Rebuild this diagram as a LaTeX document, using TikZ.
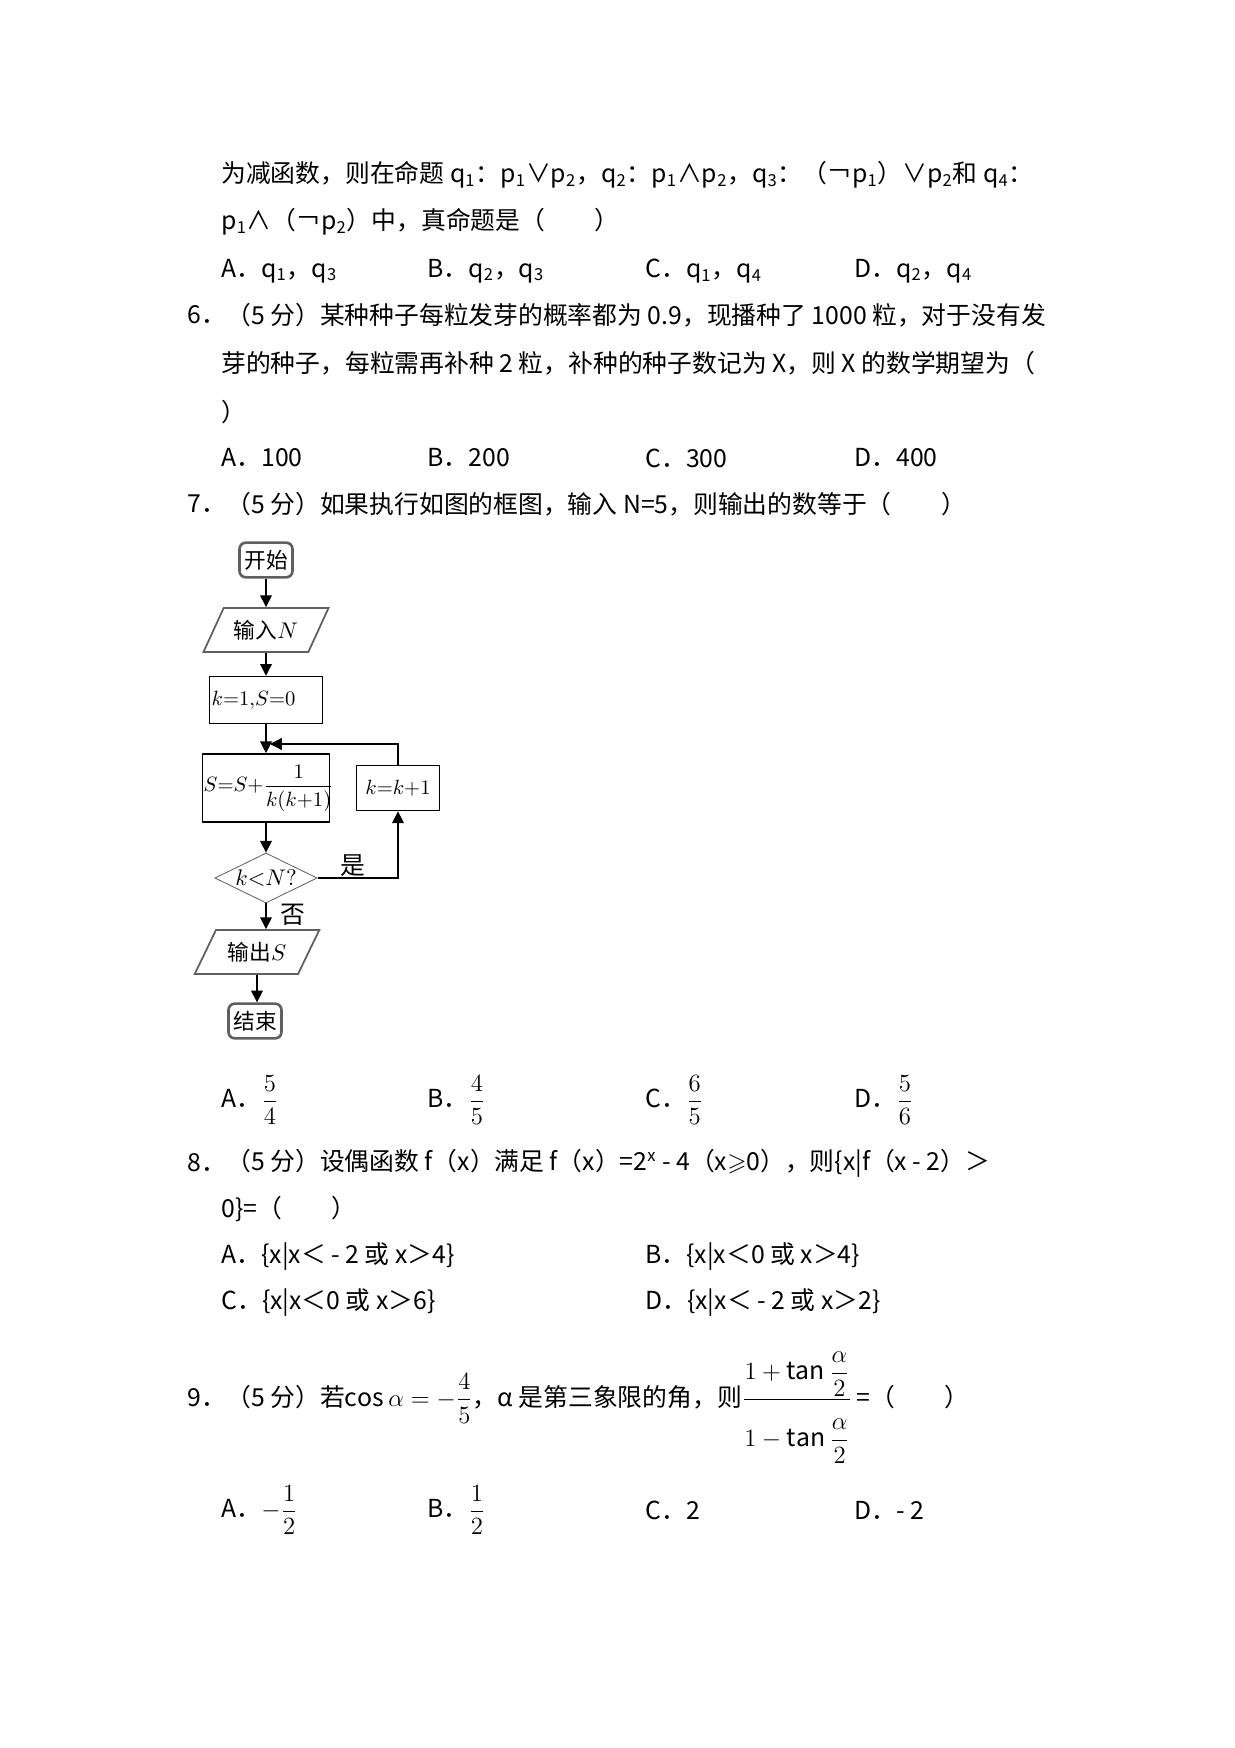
\documentclass[tikz,border=0pt]{standalone}
\usepackage{amsmath}
\usepackage{amssymb}
\usepackage{fontspec}
\setmainfont{Noto Sans CJK SC}
\usetikzlibrary{shapes.geometric}
\usetikzlibrary{arrows.meta}

\begin{document}
\begin{tikzpicture}[x=0.017018cm,y=-0.017018cm,font=\fontsize{12}{15}\selectfont]
\tikzstyle{line}=[anchor=west,inner sep=0pt]
\tikzstyle{term}=[rectangle,rounded corners=3pt,draw=gray!75!black,line width=0.45mm,minimum width=0.9cm,minimum height=0.59cm,inner sep=1pt,font=\fontsize{10.5}{12}\selectfont]
\tikzstyle{io}=[trapezium,trapezium left angle=56,trapezium right angle=124,trapezium stretches=true,draw=gray!75!black,line width=0.3mm,minimum width=2.13cm,minimum height=0.75cm,inner sep=1pt,font=\fontsize{10.5}{12}\selectfont]
\tikzstyle{box}=[rectangle,draw,line width=0.7pt,inner sep=1pt,align=left,font=\fontsize{10}{12}\selectfont]
\tikzstyle{test}=[diamond,shape aspect=2,draw=gray!75!black,line width=0.4pt,minimum width=1.74cm,minimum height=0.85cm,inner sep=0pt,font=\fontsize{10.5}{12}\selectfont]
\tikzstyle{arr}=[line width=0.6pt,-{Triangle[length=2mm,width=2mm]}]
\useasboundingbox (0,0) rectangle (1234,1748);

% question 5 (end)
\node[line] (q5a) at (221,175) {为减函数，则在命题 q\textsubscript{1}：p\textsubscript{1}∨p\textsubscript{2}，q\textsubscript{2}：p\textsubscript{1}∧p\textsubscript{2}，q\textsubscript{3}：（￢p\textsubscript{1}）∨p\textsubscript{2}和 q\textsubscript{4}：};
\node[line] (q5b) at (221,222) {p\textsubscript{1}∧（￢p\textsubscript{2}）中，真命题是（　　）};
\node[line] (q5A) at (221,271) {A．q\textsubscript{1}，q\textsubscript{3}};
\node[line] (q5B) at (427,271) {B．q\textsubscript{2}，q\textsubscript{3}};
\node[line] (q5C) at (645,271) {C．q\textsubscript{1}，q\textsubscript{4}};
\node[line] (q5D) at (854,271) {D．q\textsubscript{2}，q\textsubscript{4}};

% question 6
\node[line] (q6n) at (187,315) {6．};
\node[line] (q6a) at (226,315) {（5 分）某种种子每粒发芽的概率都为 0.9，现播种了 1000 粒，对于没有发};
\node[line] (q6b) at (221,363) {芽的种子，每粒需再补种 2 粒，补种的种子数记为 X，则 X 的数学期望为（};
\node[line] (q6c) at (221,412) {）};
\node[line] (q6A) at (221,458) {A．100};
\node[line] (q6B) at (427,458) {B．200};
\node[line] (q6C) at (645,458) {C．300};
\node[line] (q6D) at (854,458) {D．400};

% question 7
\node[line] (q7n) at (187,504) {7．};
\node[line] (q7a) at (226,504) {（5 分）如果执行如图的框图，输入 N=5，则输出的数等于（　　）};

% flow chart
\node[term] (start) at (266,560) {开始};
\node[io] (input) at (266,630) {输入$N$};
\node[box,text width=1.85cm,minimum height=0.8cm] (init) at (266,700) {$k{=}1{,}S{=}0$};
\node[box,text width=2.12cm,minimum height=1.16cm,inner sep=0.5pt,font=\fontsize{9.6}{12}\selectfont] (sum) at (266,788) {$S{=}S{+}\dfrac{1}{k(k{+}1)}$};
\node[box,minimum width=1.41cm,minimum height=0.77cm] (inc) at (398,788) {$k{=}k{+}1$};
\node[test] (cond) at (266,878) {$k{<}N?$};
\node[io] (output) at (257,952) {输出$S$};
\node[term] (stop) at (255,1021) {结束};
\coordinate (merge) at (270,744);

\draw[arr] (start.south) -- (start.south |- input.north);
\draw[arr] (input.south) -- (input.south |- init.north);
\draw[arr] (init) -- (sum);
\draw[arr] (sum) -- (cond);
\draw[arr] (cond.east) -| (inc.south);
\draw[arr] (inc.north) |- (merge);
\draw[arr] (cond.south) -- (cond.south |- output.north);
\draw[arr] (output.south) -- (output.south |- stop.north);
\node (yes) at (353,866) {是};
\node (no) at (293,915) {否};

\node[line] (q7A) at (221,1100) {A．$\dfrac{5}{4}$};
\node[line] (q7B) at (427,1100) {B．$\dfrac{4}{5}$};
\node[line] (q7C) at (645,1100) {C．$\dfrac{6}{5}$};
\node[line] (q7D) at (854,1100) {D．$\dfrac{5}{6}$};

% question 8
\node[line] (q8n) at (187,1163) {8．};
\node[line] (q8a) at (226,1163) {（5 分）设偶函数 f（x）满足 f（x）=2\textsuperscript{x} - 4（x$\geqslant$0），则\{x|f（x - 2）＞};
\node[line] (q8b) at (221,1209) {0\}=（　　）};
\node[line] (q8A) at (221,1257) {A．\{x|x＜ - 2 或 x＞4\}};
\node[line] (q8B) at (645,1257) {B．\{x|x＜0 或 x＞4\}};
\node[line] (q8C) at (221,1303) {C．\{x|x＜0 或 x＞6\}};
\node[line] (q8D) at (645,1303) {D．\{x|x＜ - 2 或 x＞2\}};

% question 9
\node[line,anchor=base west] (q9n) at (187,1406) {9．};
\node[line,anchor=base west] (q9a) at (226,1406) {（5 分）若$\cos\alpha=-\dfrac{4}{5}$，α 是第三象限的角，则$\dfrac{1+\tan\dfrac{\alpha}{2}\rule[-1.2ex]{0pt}{0pt}}{\rule{0pt}{3.2ex}1-\tan\dfrac{\alpha}{2}}\,$=（　　）};
\node[line] (q9A) at (221,1510) {A．$-\dfrac{1}{2}$};
\node[line] (q9B) at (427,1510) {B．$\dfrac{1}{2}$};
\node[line] (q9C) at (645,1510) {C．2};
\node[line] (q9D) at (854,1510) {D．- 2};
\end{tikzpicture}
\end{document}
